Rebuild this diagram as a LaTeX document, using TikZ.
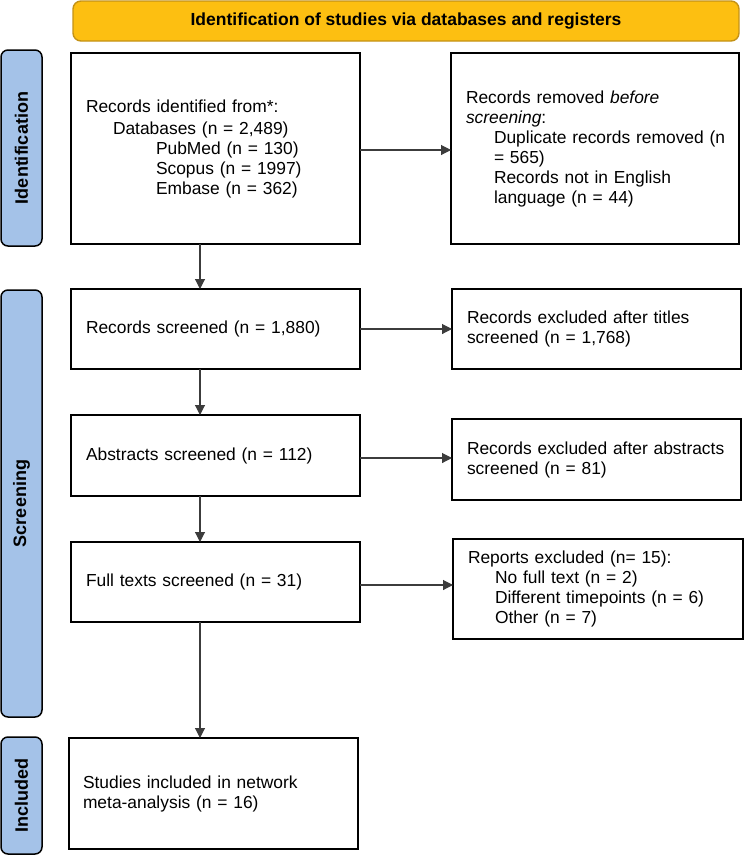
\documentclass[tikz,border=0pt]{standalone}
\usepackage{fontspec}
\setmainfont{Liberation Sans}
\usetikzlibrary{arrows.meta,calc}
\definecolor{hdrfill}{RGB}{253,191,17}
\definecolor{hdrdraw}{RGB}{196,146,22}
\definecolor{sidefill}{RGB}{164,194,232}
\definecolor{arrgray}{RGB}{60,60,60}
\begin{document}
\begin{tikzpicture}[x=1pt,y=-1pt,
  box/.style={draw=black,line width=1.5pt,fill=white,rectangle,anchor=north west,
    inner xsep=15pt,inner ysep=0pt,outer sep=0pt,
    font=\fontsize{17.4}{20}\selectfont,align=left},
  side/.style={draw=black,line width=1.5pt,fill=sidefill,rounded corners=7pt,
    rectangle,rotate=90,inner sep=0pt,outer sep=0pt,minimum height=41pt,
    font=\fontsize{18}{20}\selectfont\bfseries},
  hdr/.style={draw=hdrdraw,line width=1.4pt,fill=hdrfill,rounded corners=8pt,
    rectangle,inner sep=0pt,outer sep=0pt,
    font=\fontsize{17.5}{20}\selectfont\bfseries},
  arr/.style={draw=arrgray,line width=1.1pt,-{Triangle[length=10pt,width=10pt]}}]
\useasboundingbox (0,0) rectangle (744,855);

% header
\node[hdr,minimum width=666pt,minimum height=40pt] (hdr) at (406,21)
  {Identification of studies via databases and registers};

% side labels
\node[side,minimum width=196pt] (sid) at (21.5,148) {Identification};
\node[side,minimum width=427pt] (sscr) at (21.5,503.5) {Screening};
\node[side,minimum width=117pt] (sinc) at (21.5,795.5) {Included};

% boxes
\node[box,text width=259pt,minimum height=191pt] (b1) at (71,53)
  {Records identified from*:\\[2pt]
   \hspace*{27pt}Databases (n = 2,489)\\
   \hspace*{70pt}PubMed (n = 130)\\
   \hspace*{70pt}Scopus (n = 1997)\\
   \hspace*{70pt}Embase (n = 362)};
\node[box,text width=258pt,minimum height=191pt] (b2) at (451,53)
  {Records removed \textit{before}\\
   \textit{screening}:\\
   \hspace*{28pt}\mbox{Duplicate records removed (n}\\
   \hspace*{28pt}= 565)\\
   \hspace*{28pt}Records not in English\\
   \hspace*{28pt}language (n = 44)};
\node[box,text width=259pt,minimum height=80pt] (b3) at (71,289)
  {Records screened (n = 1,880)};
\node[box,text width=259pt,minimum height=80pt] (b4) at (452,289)
  {Records excluded after titles\\screened (n = 1,768)};
\node[box,text width=259pt,minimum height=81pt] (b5) at (71,415)
  {Abstracts screened (n = 112)};
\node[box,text width=259pt,minimum height=81pt] (b6) at (452,419)
  {Records excluded after abstracts\\screened (n = 81)};
\node[box,text width=259pt,minimum height=80pt] (b7) at (71,542)
  {Full texts screened (n = 31)};
\node[box,text width=260pt,minimum height=100pt] (b8) at (453,539)
  {Reports excluded (n= 15):\\
   \hspace*{27pt}No full text (n = 2)\\
   \hspace*{27pt}Different timepoints (n = 6)\\
   \hspace*{27pt}Other (n = 7)};
\node[box,text width=261pt,inner xsep=14pt,minimum height=111pt] (b9) at (69,738)
  {Studies included in network\\meta-analysis (n = 16)};

% connector helpers
\coordinate (vx) at (200,0);
\coordinate (h1) at (0,150);
\coordinate (h2) at (0,329);
\coordinate (h3) at (0,458);
\coordinate (h4) at (0,585);

% vertical arrows
\draw[arr] (b1.south -| vx) -- (b3.north -| vx);
\draw[arr] (b3.south -| vx) -- (b5.north -| vx);
\draw[arr] (b5.south -| vx) -- (b7.north -| vx);
\draw[arr] (b7.south -| vx) -- (b9.north -| vx);

% horizontal arrows
\draw[arr] (b1.east |- h1) -- (b2.west |- h1);
\draw[arr] (b3.east |- h2) -- (b4.west |- h2);
\draw[arr] (b5.east |- h3) -- (b6.west |- h3);
\draw[arr] (b7.east |- h4) -- (b8.west |- h4);
\end{tikzpicture}
\end{document}
